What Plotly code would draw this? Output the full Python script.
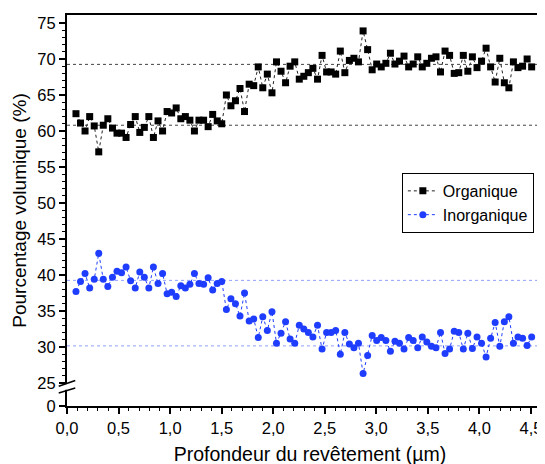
import plotly.graph_objects as go

# depth (µm)
depth = [0.087, 0.131, 0.175, 0.220, 0.264, 0.308, 0.352, 0.396, 0.441, 0.485,
         0.529, 0.573, 0.617, 0.662, 0.706, 0.750, 0.794, 0.838, 0.883, 0.927,
         0.971, 1.015, 1.059, 1.104, 1.148, 1.192, 1.236, 1.280, 1.325, 1.369,
         1.413, 1.457, 1.501, 1.546, 1.590, 1.634, 1.678, 1.722, 1.767, 1.811,
         1.855, 1.899, 1.943, 1.988, 2.032, 2.076, 2.120, 2.164, 2.209, 2.253,
         2.297, 2.341, 2.385, 2.430, 2.474, 2.518, 2.562, 2.606, 2.651, 2.695,
         2.739, 2.783, 2.827, 2.872, 2.916, 2.960, 3.004, 3.048, 3.093, 3.137,
         3.181, 3.225, 3.269, 3.314, 3.358, 3.402, 3.446, 3.490, 3.535, 3.579,
         3.623, 3.667, 3.711, 3.756, 3.800, 3.844, 3.888, 3.932, 3.977, 4.021,
         4.065, 4.109, 4.153, 4.198, 4.242, 4.286, 4.330, 4.374, 4.419, 4.463,
         4.507]

organique = [62.4, 61.1, 60.0, 62.0, 60.7, 57.1, 60.8, 61.7, 60.4, 59.7,
             59.7, 59.1, 60.9, 62.0, 59.8, 60.5, 62.0, 59.1, 61.4, 60.0,
             62.7, 62.5, 63.2, 61.7, 62.0, 61.5, 60.0, 61.5, 61.5, 60.6,
             62.3, 61.4, 61.0, 65.0, 63.5, 64.2, 65.9, 62.7, 66.5, 66.3,
             68.9, 66.0, 67.9, 65.3, 69.6, 68.3, 66.7, 69.0, 69.6, 67.2,
             67.6, 68.1, 68.7, 67.2, 70.5, 68.2, 68.2, 67.9, 71.1, 68.1,
             69.8, 70.1, 69.6, 73.9, 71.3, 68.5, 69.3, 68.9, 69.4, 70.8,
             69.3, 69.7, 70.4, 68.9, 69.3, 70.3, 68.9, 69.4, 70.1, 70.3,
             68.2, 71.1, 70.5, 68.0, 68.1, 70.5, 68.3, 70.3, 68.8, 69.7,
             71.5, 68.9, 66.8, 70.1, 66.7, 66.0, 69.6, 68.8, 69.0, 70.0,
             68.9]

inorganique = [37.7, 39.1, 40.2, 38.2, 39.4, 43.0, 39.4, 38.4, 39.7, 40.5,
               40.3, 41.1, 39.2, 38.2, 40.4, 39.7, 38.2, 41.1, 38.8, 40.2,
               37.4, 37.6, 37.0, 38.5, 38.2, 38.7, 40.2, 38.8, 38.7, 39.6,
               37.9, 38.8, 39.1, 35.2, 36.7, 36.0, 34.3, 37.5, 33.6, 33.9,
               31.3, 34.2, 32.3, 34.9, 30.5, 31.9, 33.5, 31.1, 30.5, 33.0,
               32.5, 32.0, 31.4, 33.0, 29.7, 32.0, 32.0, 32.3, 29.0, 32.0,
               30.4, 29.9, 30.5, 26.3, 28.8, 31.6, 30.9, 31.3, 30.9, 29.4,
               30.8, 30.5, 29.7, 31.3, 30.9, 29.9, 31.4, 30.7, 30.1, 29.9,
               32.0, 29.1, 29.7, 32.2, 32.0, 29.7, 31.9, 29.8, 31.4, 30.5,
               28.6, 31.2, 33.4, 30.1, 33.5, 34.2, 30.5, 31.4, 31.2, 30.2,
               31.4]

# mean levels (dotted reference lines)
org_levels = [69.25, 60.8]
inorg_levels = [39.25, 30.15]

y_tick_vals = [25, 30, 35, 40, 45, 50, 55, 60, 65, 70, 75]
y_break_bottom = 21.8   # bottom of the broken axis, shown as "0"

BLUE = "#1f3dff"
FONT = "Arial, Liberation Sans, sans-serif"

fig = go.Figure()
fig.add_trace(go.Scatter(
    x=depth, y=organique, name="Organique", mode="lines+markers",
    line=dict(color="#222222", width=1, dash="dot"),
    marker=dict(symbol="square", size=7, color="black"),
))
fig.add_trace(go.Scatter(
    x=depth, y=inorganique, name="Inorganique", mode="lines+markers",
    line=dict(color=BLUE, width=1, dash="dot"),
    marker=dict(symbol="circle", size=7, color=BLUE),
))

shapes = []
for v in org_levels:
    shapes.append(dict(type="line", xref="paper", x0=0, x1=1, yref="y", y0=v, y1=v,
                       line=dict(color="#444444", width=1, dash="dot"), layer="below"))
for v in inorg_levels:
    shapes.append(dict(type="line", xref="paper", x0=0, x1=1, yref="y", y0=v, y1=v,
                       line=dict(color="#8fa0ff", width=1, dash="dot"), layer="below"))
# axis break
shapes.append(dict(type="rect", xref="paper", x0=-0.012, x1=0.012, yref="y", y0=24.05, y1=24.85,
                   fillcolor="white", line=dict(width=0), layer="above"))
shapes.append(dict(type="line", xref="paper", x0=-0.017, x1=0.017, yref="y", y0=24.55, y1=25.35,
                   line=dict(color="black", width=1.5), layer="above"))
shapes.append(dict(type="line", xref="paper", x0=-0.017, x1=0.017, yref="y", y0=23.6, y1=24.3,
                   line=dict(color="black", width=1.5), layer="above"))

fig.update_layout(
    width=545, height=464,
    margin=dict(l=59, r=0, t=7, b=66, autoexpand=False),
    paper_bgcolor="white", plot_bgcolor="white",
    font=dict(family=FONT, size=16, color="black"),
    separators=", ",
    showlegend=True,
    legend=dict(x=0.689, y=0.596, xanchor="left", yanchor="top",
                bgcolor="white", bordercolor="black", borderwidth=1,
                font=dict(size=16), tracegroupgap=0, itemwidth=30),
    shapes=shapes,
)
fig.update_xaxes(
    range=[0, 4.714], tickformat=".1f", dtick=0.5, tick0=0,
    showline=True, linecolor="black", linewidth=2, mirror=True,
    ticks="outside", ticklen=6, tickwidth=1.5, tickcolor="black",
    minor=dict(ticks="outside", ticklen=3, dtick=0.1, tickcolor="black", tickwidth=1),
    showgrid=False, zeroline=False, automargin=False,
    tickfont=dict(size=16.5),
    title=dict(text="Profondeur du revêtement (µm)", font=dict(size=19.5), standoff=12),
)
fig.update_yaxes(
    range=[y_break_bottom, 76.11],
    tickmode="array", tickvals=[y_break_bottom] + y_tick_vals,
    ticktext=["0"] + [str(v) for v in y_tick_vals],
    showline=True, linecolor="black", linewidth=2, mirror=False,
    ticks="outside", ticklen=6, tickwidth=1.5, tickcolor="black",
    minor=dict(ticks="outside", ticklen=3, tickmode="array",
               tickvals=[v for v in range(26, 76) if v % 5 != 0],
               tickcolor="black", tickwidth=1),
    showgrid=False, zeroline=False, automargin=False,
    tickfont=dict(size=16.5),
    title=dict(text="Pourcentage volumique (%)", font=dict(size=19), standoff=6),
)

fig.write_html("out.html")
